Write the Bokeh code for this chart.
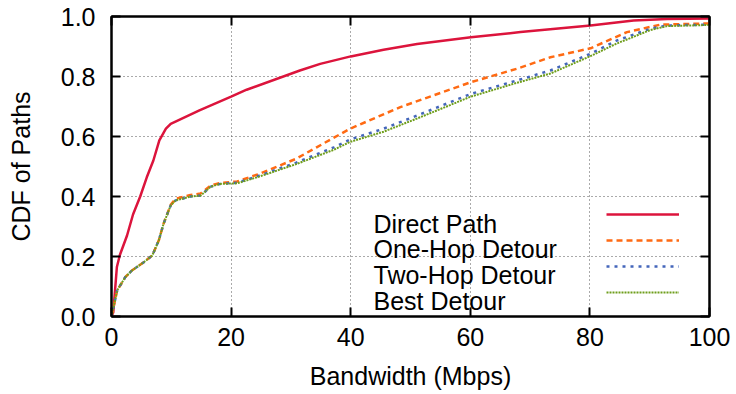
from bokeh.plotting import figure
from bokeh.models import (FixedTicker, LinearAxis, Legend, LegendItem, Label,
                          Range1d, NumeralTickFormatter)
from bokeh.embed import file_html
from bokeh.resources import INLINE

# ---- data ----
bw_direct = [0, 0.3, 0.9, 1.4, 2.6, 3.6, 4.8, 5.9, 7.0, 8.0, 9.1, 9.9, 14.7, 20, 22.6,
             31.5, 34.9, 40.0, 45.5, 51.1, 60.1, 68.4, 80.1, 87.3, 92.9, 100]
cdf_direct = [0.0, 0.014, 0.165, 0.205, 0.27, 0.34, 0.40, 0.464, 0.52, 0.587, 0.626,
              0.642, 0.687, 0.733, 0.756, 0.82, 0.842, 0.867, 0.889, 0.908, 0.931,
              0.948, 0.97, 0.987, 0.992, 0.993]

bw_one = [0, 0.95, 2.3, 3.4, 5.4, 6.8, 7.9, 8.7, 9.9, 10.7, 13.2, 14.9, 16.6, 18.2,
          21, 24.8, 30.9, 34.3, 39.9, 48.3, 60.1, 67.8, 73.4, 80.1, 86.2, 91.8, 100]
cdf_one = [0.0, 0.087, 0.131, 0.153, 0.181, 0.203, 0.253, 0.309, 0.372, 0.392, 0.405,
           0.41, 0.437, 0.445, 0.45, 0.476, 0.526, 0.564, 0.626, 0.698, 0.781, 0.826,
           0.864, 0.894, 0.948, 0.973, 0.977]

bw_two = [0, 0.95, 2.3, 3.4, 5.4, 6.8, 7.9, 8.7, 9.9, 10.7, 13.2, 14.9, 16.6, 18.2,
          21, 24.8, 30.9, 37.2, 39.9, 45.5, 51.1, 60.1, 67.8, 73.4, 80.1, 84.5, 90.1,
          92.9, 100]
cdf_two = [0.0, 0.087, 0.131, 0.153, 0.181, 0.203, 0.253, 0.309, 0.37, 0.387, 0.40,
           0.403, 0.433, 0.442, 0.446, 0.47, 0.513, 0.564, 0.59, 0.626, 0.67, 0.742,
           0.787, 0.82, 0.876, 0.92, 0.959, 0.97, 0.973]

bw_best = bw_two
cdf_best = [0.0, 0.087, 0.131, 0.153, 0.181, 0.203, 0.253, 0.309, 0.37, 0.387, 0.40,
            0.403, 0.433, 0.442, 0.444, 0.467, 0.508, 0.556, 0.582, 0.616, 0.66,
            0.733, 0.779, 0.81, 0.868, 0.91, 0.955, 0.968, 0.972]

series_names = ["Direct Path", "One-Hop Detour", "Two-Hop Detour", "Best Detour"]
x_ticks = [0, 20, 40, 60, 80, 100]
y_ticks = [0.0, 0.2, 0.4, 0.6, 0.8, 1.0]

FONT = "Liberation Sans"
FS = "25px"

p = figure(width=736, height=394, output_backend="svg", toolbar_location=None,
           x_range=Range1d(0, 100), y_range=Range1d(0, 1),
           min_border_left=111, min_border_right=27, min_border_top=16,
           min_border_bottom=78)
p.background_fill_color = "white"
p.border_fill_color = "white"
p.outline_line_color = "black"
p.outline_line_width = 2

# grid
for g in (p.xgrid, p.ygrid):
    g.grid_line_color = "#555555"
    g.grid_line_dash = "1 3"
    g.grid_line_width = 1
p.xgrid.ticker = FixedTicker(ticks=x_ticks)
p.ygrid.ticker = FixedTicker(ticks=y_ticks)

# main axes
xa = p.xaxis[0]
ya = p.yaxis[0]
xa.ticker = FixedTicker(ticks=x_ticks)
ya.ticker = FixedTicker(ticks=y_ticks)
ya.formatter = NumeralTickFormatter(format="0.0")
for ax in (xa, ya):
    ax.major_tick_in = 9
    ax.major_tick_out = 0
    ax.minor_tick_line_color = None
    ax.axis_line_width = 2
    ax.major_tick_line_width = 2
    ax.major_label_text_font = FONT
    ax.major_label_text_font_size = FS
    ax.major_label_text_color = "black"
    ax.axis_label_text_font = FONT
    ax.axis_label_text_font_size = FS
    ax.axis_label_text_font_style = "normal"
    ax.axis_label_text_color = "black"
xa.axis_label = "Bandwidth (Mbps)"
ya.axis_label = "CDF of Paths"
xa.major_label_standoff = 11
ya.major_label_standoff = 16
xa.axis_label_standoff = 13
ya.axis_label_standoff = 23

# mirrored tick axes (ticks only)
for loc, t in (("above", x_ticks), ("right", y_ticks)):
    ax = LinearAxis(ticker=FixedTicker(ticks=t))
    ax.major_tick_in = 9
    ax.major_tick_out = 0
    ax.major_tick_line_width = 2
    ax.minor_tick_line_color = None
    ax.major_label_text_color = None
    ax.major_label_standoff = 0
    ax.axis_line_width = 2
    p.add_layout(ax, loc)

# lines
r1 = p.line(bw_direct, cdf_direct, line_color="#dc143c", line_width=2.5)
r2 = p.line(bw_one, cdf_one, line_color="#ff6a13", line_width=2.5, line_dash="6 4")
r3 = p.line(bw_two, cdf_two, line_color="#4466bb", line_width=2.5, line_dash="3 5")
r4 = p.line(bw_best, cdf_best, line_color="#6f9e1c", line_width=2, line_dash="2 1")

# legend: line samples (right) + text labels (left)
legend = Legend(items=[LegendItem(label=" ", renderers=[r]) for r in (r1, r2, r3, r4)],
                location=(495, 11), glyph_width=73, glyph_height=26, label_height=26,
                label_width=0, label_standoff=0, label_text_color=None,
                spacing=0, padding=0, margin=0,
                border_line_color=None, background_fill_alpha=0)
p.add_layout(legend, "center")

for i, name in enumerate(series_names):
    p.add_layout(Label(x=262, y=93 - i * 25.7, x_units="screen", y_units="screen",
                       text=name, text_font=FONT, text_font_size=FS,
                       text_color="black", text_baseline="alphabetic"))

open("out.html", "w").write(file_html(p, INLINE))
